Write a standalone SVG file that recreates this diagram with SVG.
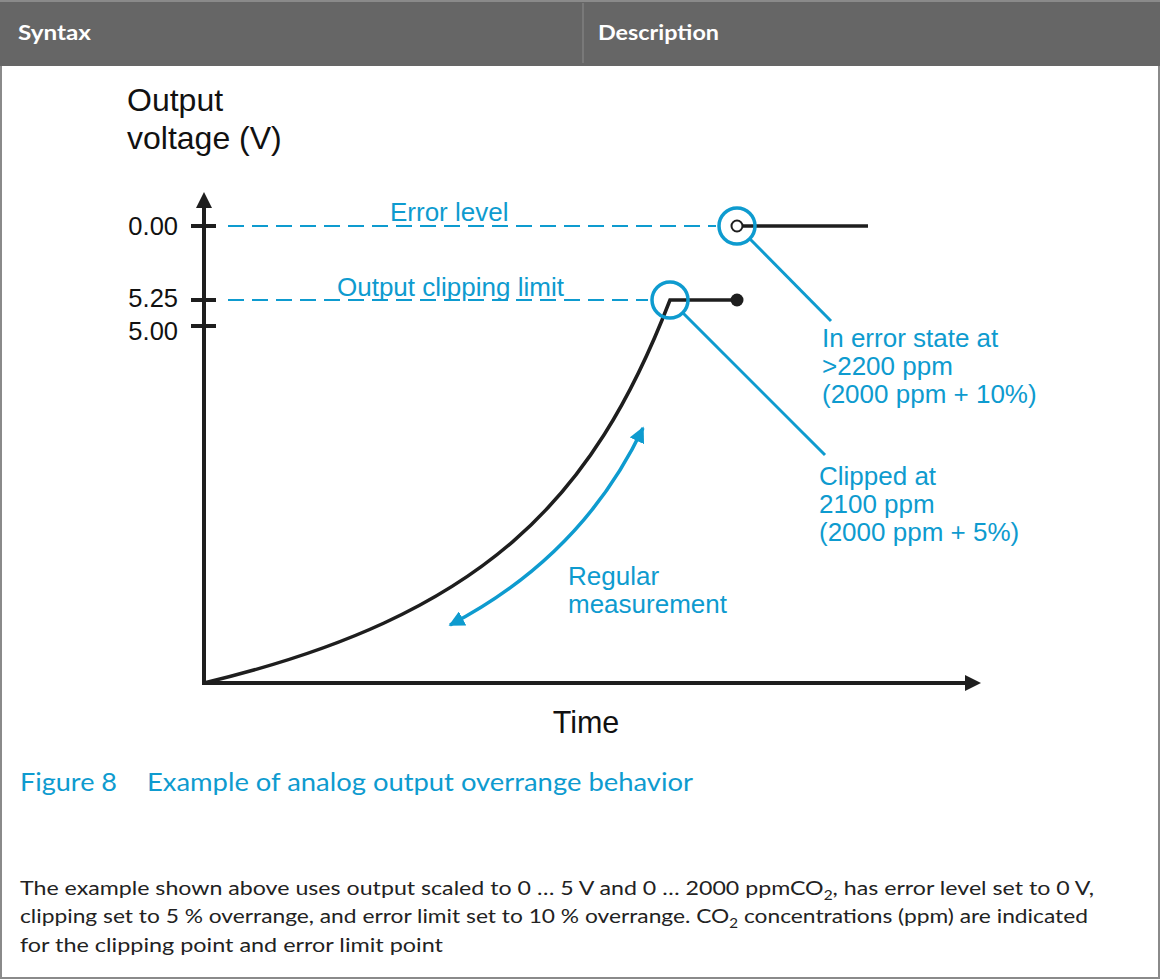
<svg xmlns="http://www.w3.org/2000/svg" width="1160" height="980" viewBox="0 0 1160 980">
<style>
.ax{stroke:#1e1e1e;stroke-width:4;fill:none}
.blk{stroke:#1e1e1e;stroke-width:3.5;fill:none}
.cy{stroke:#0e9bcf;fill:none}
.dash{stroke:#0e9bcf;stroke-width:2;stroke-dasharray:16 8;fill:none}
.lbl{font-family:"Liberation Sans",Arial,sans-serif;fill:#111}
.ann{font-family:"Liberation Sans",Arial,sans-serif;fill:#0e9bcf;font-size:26px}
.hdr{font-family:Lato,"Noto Sans",sans-serif;font-weight:bold;fill:#fff;font-size:20px}
.cap{font-family:Lato,"Noto Sans",sans-serif;fill:#0e9bcf;font-size:25px}
.body{font-family:Lato,"Noto Sans",sans-serif;fill:#222;font-size:19.5px}
</style>
<defs>
<marker id="ah" viewBox="0 0 10 10" refX="9" refY="5" markerWidth="4.5" markerHeight="4.5" orient="auto-start-reverse" markerUnits="strokeWidth">
<path d="M0,0 L10,5 L0,10 Z" fill="#0e9bcf"/>
</marker>
</defs>
<g id="frame">
<rect x="1" y="1" width="1158" height="977" fill="#fff" stroke="#8a8a8a" stroke-width="2"/>
<rect x="0" y="0" width="1160" height="66" fill="#666666"/>
<rect x="0" y="0" width="1160" height="2" fill="#8a8a8a"/>
<line x1="583" y1="3" x2="583" y2="63" stroke="#8c8c8c" stroke-width="1"/>
<text class="hdr" x="18" y="40" textLength="73" lengthAdjust="spacingAndGlyphs">Syntax</text>
<text class="hdr" x="598" y="40" textLength="121" lengthAdjust="spacingAndGlyphs">Description</text>
</g>
<g id="axes">
<line class="ax" x1="204" y1="685" x2="204" y2="205"/>
<path d="M196,208 L204,192 L212,208 Z" fill="#1e1e1e"/>
<line class="ax" x1="202" y1="683" x2="967" y2="683"/>
<path d="M965,675 L981,683 L965,691 Z" fill="#1e1e1e"/>
<line class="ax" x1="191" y1="226" x2="216" y2="226"/>
<line class="ax" x1="191" y1="300" x2="216" y2="300"/>
<line class="ax" x1="191" y1="326" x2="216" y2="326"/>
<text class="lbl" x="178" y="235" font-size="25.5" text-anchor="end">0.00</text>
<text class="lbl" x="178" y="307" font-size="25.5" text-anchor="end">5.25</text>
<text class="lbl" x="178" y="340" font-size="25.5" text-anchor="end">5.00</text>
<text class="lbl" x="127" y="111" font-size="32">Output</text>
<text class="lbl" x="127" y="149" font-size="32">voltage (V)</text>
<text class="lbl" x="586" y="733" font-size="30.5" text-anchor="middle">Time</text>
</g>
<g id="connectors">
<line class="dash" x1="228" y1="226" x2="716" y2="226"/>
<line class="dash" x1="228" y1="300" x2="648" y2="300"/>
<path class="blk" d="M204,683 C484,616 593,500 670,300 L737,300"/>
<line class="blk" x1="743" y1="226" x2="868" y2="226"/>
<circle cx="737" cy="300" r="6.5" fill="#1e1e1e"/>
<circle cx="737" cy="226" r="5.5" fill="#fff" stroke="#1e1e1e" stroke-width="2"/>
<circle class="cy" cx="737" cy="226" r="18" stroke-width="3.5"/>
<circle class="cy" cx="670" cy="300" r="18" stroke-width="3.5"/>
<line class="cy" x1="750" y1="239" x2="831" y2="321" stroke-width="3"/>
<line class="cy" x1="683" y1="313" x2="825" y2="455" stroke-width="3"/>
<path class="cy" d="M450,625 Q582,556 643,428" stroke-width="3.5" marker-start="url(#ah)" marker-end="url(#ah)"/>
</g>
<g id="annotations">
<text class="ann" x="390" y="221">Error level</text>
<text class="ann" x="337" y="296">Output clipping limit</text>
<text class="ann" x="822" y="347">In error state at</text>
<text class="ann" x="822" y="375">&gt;2200 ppm</text>
<text class="ann" x="822" y="403">(2000 ppm + 10%)</text>
<text class="ann" x="819" y="485">Clipped at</text>
<text class="ann" x="819" y="513">2100 ppm</text>
<text class="ann" x="819" y="541">(2000 ppm + 5%)</text>
<text class="ann" x="568" y="585">Regular</text>
<text class="ann" x="568" y="613">measurement</text>
</g>
<g id="caption">
<text class="cap" x="20" y="791" textLength="97" lengthAdjust="spacingAndGlyphs">Figure 8</text>
<text class="cap" x="147" y="791" textLength="546" lengthAdjust="spacingAndGlyphs">Example of analog output overrange behavior</text>
<text class="body" x="20" y="895" textLength="1074" lengthAdjust="spacingAndGlyphs">The example shown above uses output scaled to 0 … 5 V and 0 … 2000 ppmCO<tspan font-size="13" dy="5">2</tspan><tspan dy="-5">, has error level set to 0 V,</tspan></text>
<text class="body" x="20" y="923" textLength="1068" lengthAdjust="spacingAndGlyphs">clipping set to 5 % overrange, and error limit set to 10 % overrange. CO<tspan font-size="13" dy="5">2</tspan><tspan dy="-5"> concentrations (ppm) are indicated</tspan></text>
<text class="body" x="20" y="952" textLength="423" lengthAdjust="spacingAndGlyphs">for the clipping point and error limit point</text>
</g>
</svg>
